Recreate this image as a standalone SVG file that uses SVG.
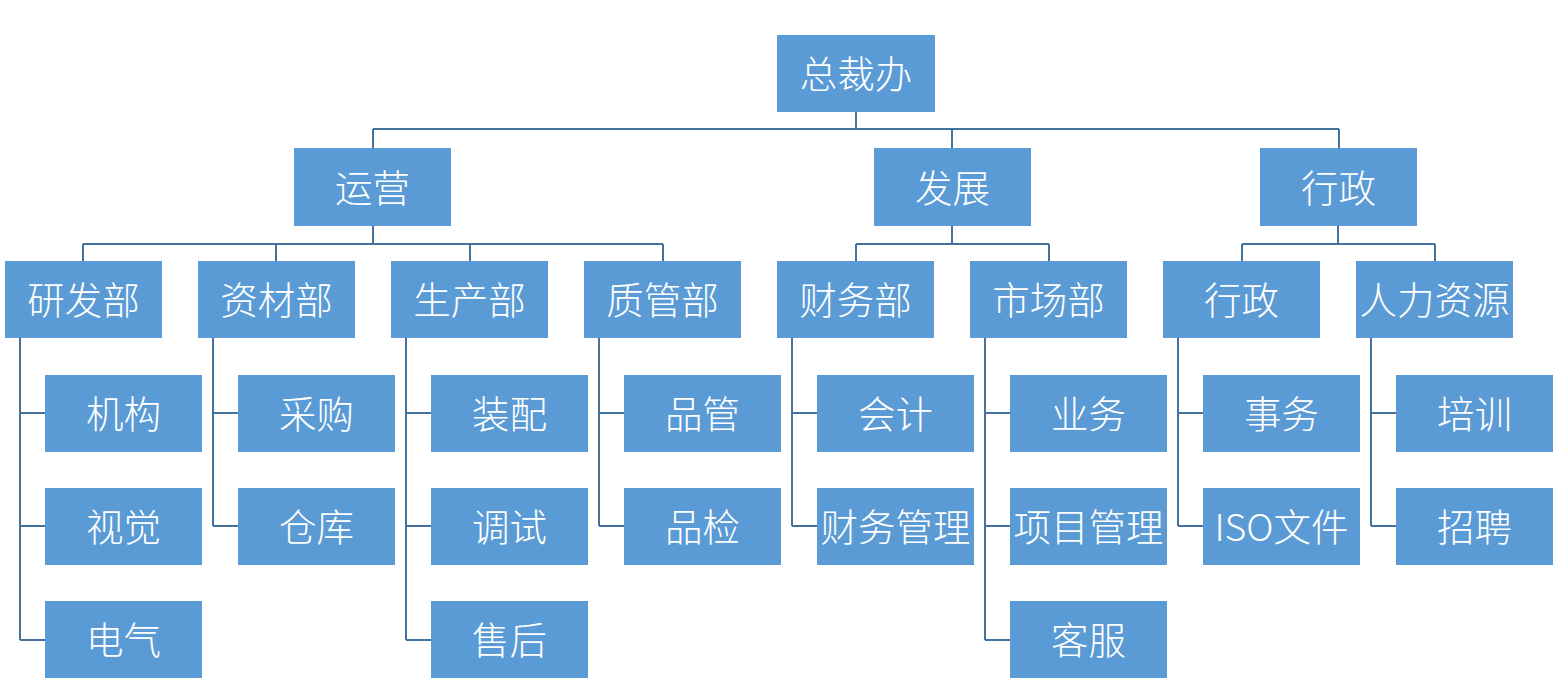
<svg xmlns="http://www.w3.org/2000/svg" width="1568" height="694" viewBox="0 0 1568 694">
<style>
.box{fill:#5B9BD5}
.t{fill:#fff;font-family:"Noto Sans CJK SC","Microsoft YaHei",sans-serif;font-size:37.5px;font-weight:300;text-anchor:middle;dominant-baseline:central}
.c{fill:none;stroke:#41719C;stroke-width:2}
</style>
<rect width="1568" height="694" fill="#fff"/>
<g id="connectors">
<path class="c" d="M856 112V129M373 129H1339M373 129V148M952 129V148M1339 129V148"/>
<path class="c" d="M373 226V244M83 244H663M83 244V261M276 244V261M470 244V261M663 244V261"/>
<path class="c" d="M952 226V244M856 244H1049M856 244V261M1049 244V261"/>
<path class="c" d="M1338 226V244M1242 244H1435M1242 244V261M1435 244V261"/>
<path class="c" d="M20 338V640M20 413H45M20 526H45M20 640H45"/>
<path class="c" d="M213 338V526M213 413H238M213 526H238"/>
<path class="c" d="M406 338V640M406 413H431M406 526H431M406 640H431"/>
<path class="c" d="M599 338V526M599 413H624M599 526H624"/>
<path class="c" d="M792 338V526M792 413H817M792 526H817"/>
<path class="c" d="M985 338V640M985 413H1010M985 526H1010M985 640H1010"/>
<path class="c" d="M1178 338V526M1178 413H1203M1178 526H1203"/>
<path class="c" d="M1371 338V526M1371 413H1396M1371 526H1396"/>
</g>
<g id="n-zongcai"><rect class="box" x="777" y="35" width="158" height="77"/><text class="t" x="856" y="71">总裁办</text></g>
<g id="n-yunying"><rect class="box" x="294" y="148" width="157" height="78"/><text class="t" x="372.5" y="185">运营</text></g>
<g id="n-fazhan"><rect class="box" x="874" y="148" width="157" height="78"/><text class="t" x="952.5" y="185">发展</text></g>
<g id="n-xingzheng"><rect class="box" x="1260" y="148" width="157" height="78"/><text class="t" x="1338.5" y="185">行政</text></g>
<g id="n-yanfa"><rect class="box" x="5" y="261" width="157" height="77"/><text class="t" x="83.5" y="297.5">研发部</text></g>
<g id="n-zicai"><rect class="box" x="198" y="261" width="157" height="77"/><text class="t" x="276.5" y="297.5">资材部</text></g>
<g id="n-shengchan"><rect class="box" x="391" y="261" width="157" height="77"/><text class="t" x="469.5" y="297.5">生产部</text></g>
<g id="n-zhiguan"><rect class="box" x="584" y="261" width="157" height="77"/><text class="t" x="662.5" y="297.5">质管部</text></g>
<g id="n-caiwu"><rect class="box" x="777" y="261" width="157" height="77"/><text class="t" x="855.5" y="297.5">财务部</text></g>
<g id="n-shichang"><rect class="box" x="970" y="261" width="157" height="77"/><text class="t" x="1048.5" y="297.5">市场部</text></g>
<g id="n-xingzheng2"><rect class="box" x="1163" y="261" width="157" height="77"/><text class="t" x="1241.5" y="297.5">行政</text></g>
<g id="n-renli"><rect class="box" x="1356" y="261" width="157" height="77"/><text class="t" x="1434.5" y="297.5">人力资源</text></g>
<g id="n-jigou"><rect class="box" x="45" y="375" width="157" height="77"/><text class="t" x="123.5" y="411.5">机构</text></g>
<g id="n-shijue"><rect class="box" x="45" y="488" width="157" height="77"/><text class="t" x="123.5" y="524.5">视觉</text></g>
<g id="n-dianqi"><rect class="box" x="45" y="601" width="157" height="77"/><text class="t" x="123.5" y="637.5">电气</text></g>
<g id="n-caigou"><rect class="box" x="238" y="375" width="157" height="77"/><text class="t" x="316.5" y="411.5">采购</text></g>
<g id="n-cangku"><rect class="box" x="238" y="488" width="157" height="77"/><text class="t" x="316.5" y="524.5">仓库</text></g>
<g id="n-zhuangpei"><rect class="box" x="431" y="375" width="157" height="77"/><text class="t" x="509.5" y="411.5">装配</text></g>
<g id="n-tiaoshi"><rect class="box" x="431" y="488" width="157" height="77"/><text class="t" x="509.5" y="524.5">调试</text></g>
<g id="n-shouhou"><rect class="box" x="431" y="601" width="157" height="77"/><text class="t" x="509.5" y="637.5">售后</text></g>
<g id="n-pinguan"><rect class="box" x="624" y="375" width="157" height="77"/><text class="t" x="702.5" y="411.5">品管</text></g>
<g id="n-pinjian"><rect class="box" x="624" y="488" width="157" height="77"/><text class="t" x="702.5" y="524.5">品检</text></g>
<g id="n-kuaiji"><rect class="box" x="817" y="375" width="157" height="77"/><text class="t" x="895.5" y="411.5">会计</text></g>
<g id="n-caiwuguanli"><rect class="box" x="817" y="488" width="157" height="77"/><text class="t" x="895.5" y="524.5">财务管理</text></g>
<g id="n-yewu"><rect class="box" x="1010" y="375" width="157" height="77"/><text class="t" x="1088.5" y="411.5">业务</text></g>
<g id="n-xiangmu"><rect class="box" x="1010" y="488" width="157" height="77"/><text class="t" x="1088.5" y="524.5">项目管理</text></g>
<g id="n-kefu"><rect class="box" x="1010" y="601" width="157" height="77"/><text class="t" x="1088.5" y="637.5">客服</text></g>
<g id="n-shiwu"><rect class="box" x="1203" y="375" width="157" height="77"/><text class="t" x="1281.5" y="411.5">事务</text></g>
<g id="n-iso"><rect class="box" x="1203" y="488" width="157" height="77"/><text class="t" x="1281.5" y="524.5">ISO文件</text></g>
<g id="n-peixun"><rect class="box" x="1396" y="375" width="157" height="77"/><text class="t" x="1474.5" y="411.5">培训</text></g>
<g id="n-zhaopin"><rect class="box" x="1396" y="488" width="157" height="77"/><text class="t" x="1474.5" y="524.5">招聘</text></g>
</svg>
